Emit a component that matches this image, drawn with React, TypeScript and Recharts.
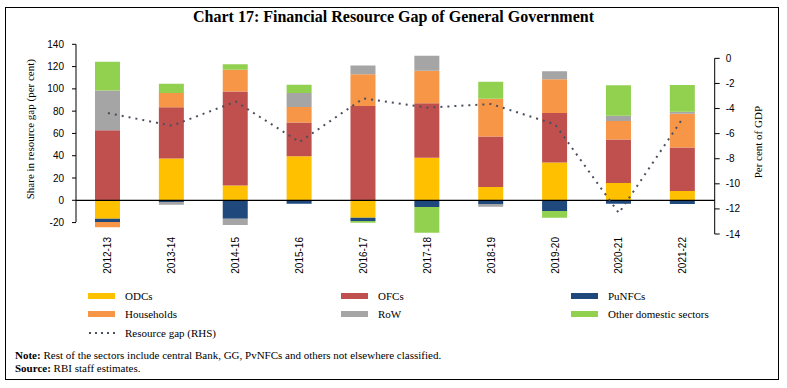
import React from 'react';
import {
    ComposedChart, Bar, Line, XAxis, YAxis, ReferenceLine
} from 'recharts';

// financial years on the x axis
const years = ['2012-13', '2013-14', '2014-15', '2015-16', '2016-17', '2017-18', '2018-19', '2019-20', '2020-21', '2021-22'];

// share in resource gap (per cent)
const odcs = [-16.5, 37.5, 13.2, 39.6, -15.6, 38.1, 12, 33.9, 15.6, 8.4];
const ofcs = [62.8, 45.9, 84.4, 30.3, 84.7, 49, 45.3, 44.4, 39, 39];
const punfcs = [-3, -1.5, -16.5, -3, -3, -6, -3.3, -9.6, -3, -3.3];
const households = [-4.8, 12.9, 19.5, 13.8, 28.5, 29.1, 33.9, 30.3, 16.5, 30.3];
const rowSector = [35.7, -2.4, -5.7, 12.6, 7.8, 13.5, -2.4, 7.2, 4.8, 1.8];
const otherDomestic = [25.8, 8.4, 5.1, 7.5, -1.5, -23.1, 15.3, -6, 27.3, 24];

// resource gap, per cent of GDP (RHS)
const resourceGap = [-4.36, -5.37, -3.45, -6.67, -3.19, -3.93, -3.64, -5.26, -12.33, -4.78];

const leftTicks = [-20, 0, 20, 40, 60, 80, 100, 120, 140];
const rightTicks = [-14, -12, -10, -8, -6, -4, -2, 0];

const data = years.map((year, i) => ({
    year,
    odcs: odcs[i],
    ofcs: ofcs[i],
    punfcs: punfcs[i],
    households: households[i],
    row: rowSector[i],
    other: otherDomestic[i],
    gap: resourceGap[i],
}));

const COLORS = {
    odcs: '#FFC000',
    ofcs: '#C0504D',
    punfcs: '#1F497D',
    households: '#F79646',
    row: '#A5A5A5',
    other: '#92D050',
    gap: '#4a4f5e',
};

const serif = '"Liberation Serif", "Times New Roman", serif';
const sans = '"Liberation Sans", Arial, sans-serif';

const YearTick = (props: any) => {
    const { x, y, payload } = props;
    return (
        <text
            x={x}
            y={y}
            transform={`rotate(-90, ${x}, ${y})`}
            textAnchor="end"
            dy="0.35em"
            fontSize={10}
            fontFamily={sans}
            fill="#000"
        >
            {payload.value}
        </text>
    );
};

const legendItems = [
    { label: 'ODCs', color: COLORS.odcs, x: 88, y: 296 },
    { label: 'OFCs', color: COLORS.ofcs, x: 341, y: 296 },
    { label: 'PuNFCs', color: COLORS.punfcs, x: 571, y: 296 },
    { label: 'Households', color: COLORS.households, x: 88, y: 314 },
    { label: 'RoW', color: COLORS.row, x: 341, y: 314 },
    { label: 'Other domestic sectors', color: COLORS.other, x: 571, y: 314 },
];

const App = () => {
    return (
        <div style={{ position: 'absolute', left: 0, top: 0, width: 787, height: 388, background: '#fff' }}>
            <div style={{
                position: 'absolute', left: 5, top: 7, width: 774, height: 373,
                border: '1.5px solid #000', boxSizing: 'border-box'
            }} />
            <div style={{
                position: 'absolute', left: 0, top: 8, width: 787, textAlign: 'center',
                fontFamily: serif, fontWeight: 'bold', fontSize: 16, color: '#000'
            }}>
                Chart 17: Financial Resource Gap of General Government
            </div>

            <div style={{ position: 'absolute', left: 0, top: 0 }}>
                <ComposedChart
                    width={787}
                    height={388}
                    data={data}
                    stackOffset="sign"
                    margin={{ top: 44.3, right: 0, bottom: 114, left: 0 }}
                >
                    <XAxis
                        dataKey="year"
                        height={40}
                        axisLine={false}
                        tickLine={false}
                        tickSize={0}
                        tickMargin={3}
                        interval={0}
                        tick={<YearTick />}
                    />
                    <YAxis
                        yAxisId="left"
                        width={76}
                        domain={[-30.25, 140]}
                        ticks={leftTicks}
                        allowDataOverflow
                        tickSize={4}
                        tickMargin={8}
                        axisLine={{ stroke: '#000', strokeDasharray: '177.9 60' }}
                        tickLine={{ stroke: '#000' }}
                        tick={{ fontSize: 10, fontFamily: sans, fill: '#000' }}
                        label={{
                            value: 'Share in resource gap (per cent)', angle: -90, position: 'center',
                            dx: -8, dy: -10, style: { fontSize: 11, fontFamily: serif, fill: '#000' }
                        }}
                    />
                    <YAxis
                        yAxisId="right"
                        orientation="right"
                        width={72.3}
                        domain={[-14, 1.12]}
                        ticks={rightTicks}
                        allowDataOverflow
                        tickSize={5}
                        tickMargin={6}
                        axisLine={{ stroke: '#000', strokeDasharray: '0 14 200' }}
                        tickLine={{ stroke: '#000' }}
                        tick={{ fontSize: 10, fontFamily: sans, fill: '#000' }}
                        label={{
                            value: 'Per cent of GDP', angle: -90, position: 'center',
                            dx: 7, dy: 3, style: { fontSize: 11, fontFamily: serif, fill: '#000' }
                        }}
                    />
                    <Bar yAxisId="left" dataKey="odcs" name="ODCs" stackId="a" fill={COLORS.odcs} barSize={25} isAnimationActive={false} />
                    <Bar yAxisId="left" dataKey="ofcs" name="OFCs" stackId="a" fill={COLORS.ofcs} barSize={25} isAnimationActive={false} />
                    <Bar yAxisId="left" dataKey="punfcs" name="PuNFCs" stackId="a" fill={COLORS.punfcs} barSize={25} isAnimationActive={false} />
                    <Bar yAxisId="left" dataKey="households" name="Households" stackId="a" fill={COLORS.households} barSize={25} isAnimationActive={false} />
                    <Bar yAxisId="left" dataKey="row" name="RoW" stackId="a" fill={COLORS.row} barSize={25} isAnimationActive={false} />
                    <Bar yAxisId="left" dataKey="other" name="Other domestic sectors" stackId="a" fill={COLORS.other} barSize={25} isAnimationActive={false} />
                    <ReferenceLine yAxisId="left" y={0} stroke="#000" strokeWidth={1.3} />
                    <Line
                        yAxisId="right"
                        type="linear"
                        dataKey="gap"
                        name="Resource gap (RHS)"
                        stroke={COLORS.gap}
                        strokeWidth={2}
                        strokeDasharray="2 5"
                        dot={false}
                        activeDot={false}
                        isAnimationActive={false}
                    />
                </ComposedChart>
            </div>

            {legendItems.map(item => (
                <div key={item.label} style={{ position: 'absolute', left: item.x, top: item.y - 8, height: 16, display: 'flex', alignItems: 'center' }}>
                    <div style={{ width: 27, height: 6, background: item.color }} />
                    <span style={{ marginLeft: 10, fontFamily: serif, fontSize: 11, color: '#000' }}>{item.label}</span>
                </div>
            ))}
            <div style={{ position: 'absolute', left: 88, top: 325, height: 16, display: 'flex', alignItems: 'center' }}>
                <svg width={27} height={6}>
                    <line x1={1} y1={3} x2={27} y2={3} stroke={COLORS.gap} strokeWidth={2} strokeDasharray="2 4" />
                </svg>
                <span style={{ marginLeft: 10, fontFamily: serif, fontSize: 11, color: '#000' }}>Resource gap (RHS)</span>
            </div>

            <div style={{ position: 'absolute', left: 15, top: 349, fontFamily: serif, fontSize: 11, color: '#000', lineHeight: '13px' }}>
                <div><b>Note:</b> Rest of the sectors include central Bank, GG, PvNFCs and others not elsewhere classified.</div>
                <div><b>Source:</b> RBI staff estimates.</div>
            </div>
        </div>
    );
};

export default App;
